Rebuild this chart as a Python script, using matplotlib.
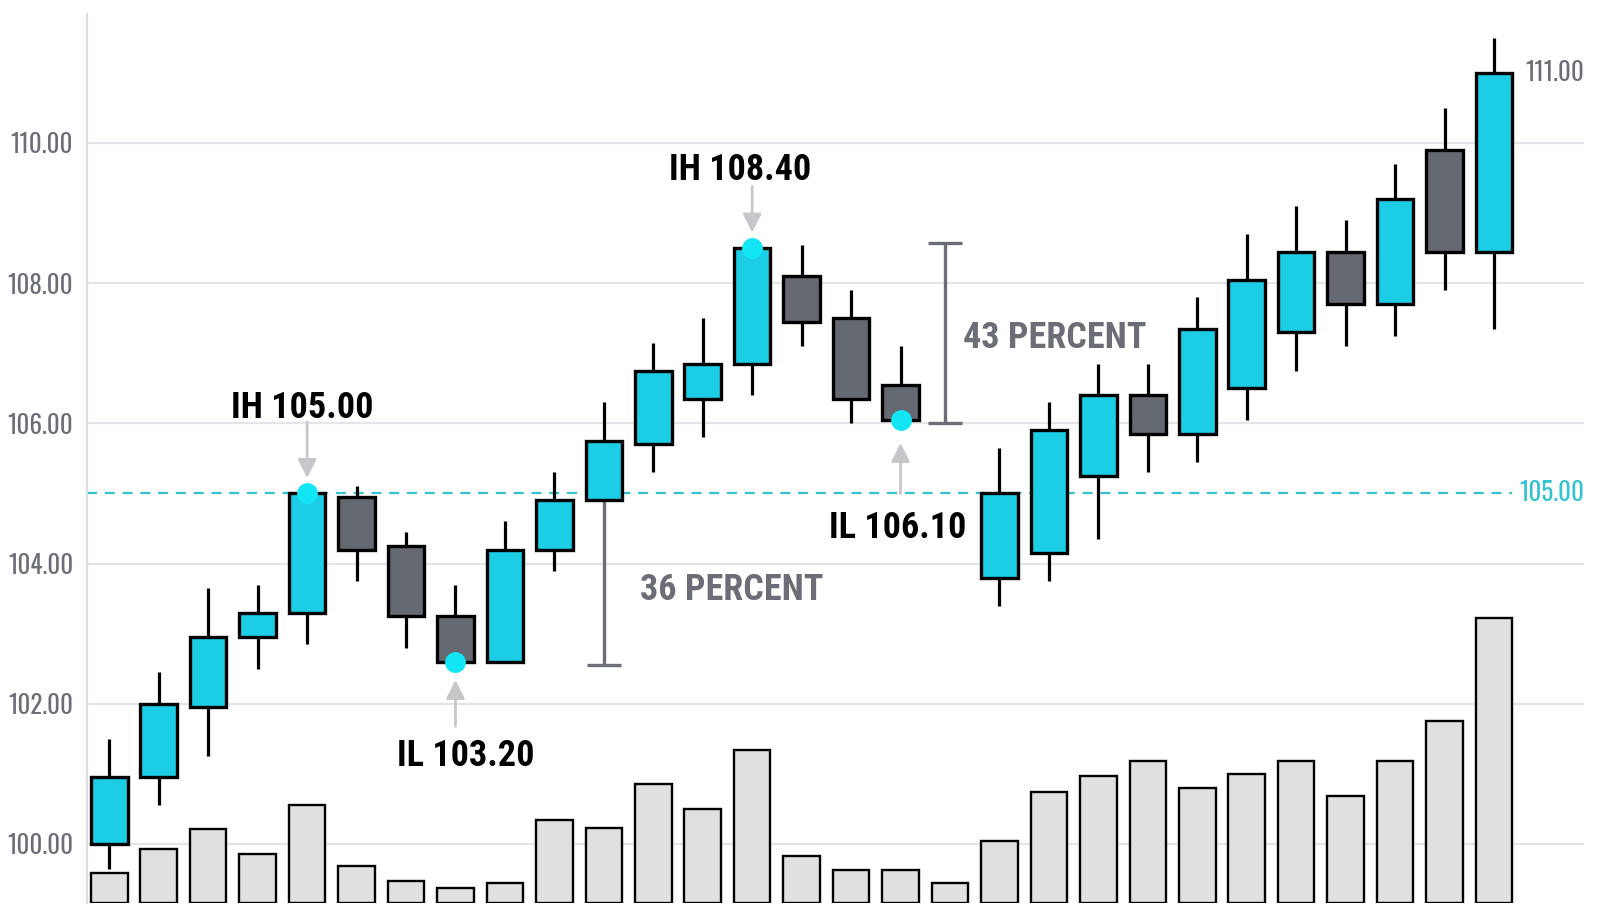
import matplotlib
matplotlib.use("Agg")
import matplotlib.pyplot as plt
from matplotlib import font_manager as fm

# --- data ---
candle_x = list(range(17)) + list(range(18, 29))
opens = [100.0, 100.95, 101.95, 102.95, 103.3, 104.95, 104.25, 103.25, 102.6, 104.2,
         104.9, 105.7, 106.35, 106.85, 108.1, 107.5, 106.55,
         103.8, 104.15, 105.25, 106.4, 105.85, 106.5, 107.3, 108.45, 107.7, 109.9, 108.45]
closes = [100.95, 102.0, 102.95, 103.3, 105.0, 104.2, 103.25, 102.6, 104.2, 104.9,
          105.75, 106.75, 106.85, 108.5, 107.45, 106.35, 106.05,
          105.0, 105.9, 106.4, 105.85, 107.35, 108.05, 108.45, 107.7, 109.2, 108.45, 111.0]
highs = [101.5, 102.45, 103.65, 103.7, 105.0, 105.1, 104.45, 103.7, 104.6, 105.3,
         106.3, 107.15, 107.5, 108.5, 108.55, 107.9, 107.1,
         105.65, 106.3, 106.85, 106.85, 107.8, 108.7, 109.1, 108.9, 109.7, 110.5, 111.5]
lows = [99.65, 100.55, 101.25, 102.5, 102.85, 103.75, 102.8, 102.6, 102.6, 103.9,
        104.9, 105.3, 105.8, 106.4, 107.1, 106.0, 106.05,
        103.4, 103.75, 104.35, 105.3, 105.45, 106.05, 106.75, 107.1, 107.25, 107.9, 107.35]

volume_x = list(range(29))
volumes = [3.0, 5.4, 7.4, 4.9, 9.8, 3.7, 2.2, 1.5, 2.0, 8.3, 7.5, 11.9, 9.4, 15.3, 4.75,
           3.35, 3.35, 2.0, 6.2, 11.1, 12.7, 14.2, 11.5, 12.9, 14.2, 10.7, 14.2, 18.2, 28.5]

y_ticks = [100, 102, 104, 106, 108, 110]
breakout_level = 105.0
last_close = 111.0

# pivot labels: (candle index, text, text x, text baseline y, arrow tail y, arrow tip y, dot y)
pivots = [
    (4, "IH 105.00", 3.9, 106.08, 106.02, 105.22, 105.0),
    (7, "IL 103.20", 7.2, 101.11, 101.68, 102.34, 102.6),
    (13, "IH 108.40", 12.75, 109.47, 109.38, 108.72, 108.5),
    (16, "IL 106.10", 15.95, 104.37, 105.0, 105.72, 106.05),
]
# retracement brackets: (x, top, bottom, caps, label, label x, label y)
brackets = [
    (10, 104.9, 102.55, "bottom", "36 PERCENT", 10.74, 103.48),
    (16.9, 108.57, 106.0, "both", "43 PERCENT", 17.27, 107.08),
]

# --- fonts: narrow family for ticks, narrow family with a real bold for labels ---
entries = fm.fontManager.ttflist
names = {f.name for f in entries}
narrow = ["Oswald", "Roboto Condensed", "Liberation Sans Narrow", "DejaVu Sans Condensed",
          "Noto Sans Condensed", "Open Sans Condensed"]
font = next((n for n in narrow if n in names), "Roboto")


def max_weight(name):
    w = [f.weight for f in entries if f.name == name]
    w = [x if isinstance(x, int) else fm.weight_dict.get(x, 400) for x in w]
    return max(w) if w else 0


bold_font = next((n for n in narrow if n in names and max_weight(n) >= 700), None)
if bold_font is None:
    bold_font = font
bold_weight = max(700, max_weight(bold_font)) if max_weight(bold_font) >= 700 else "bold"
plt.rcParams["font.family"] = [font, "DejaVu Sans"]
BOLD = dict(family=[bold_font, "DejaVu Sans"], fontweight=bold_weight)

UP = "#1ccde6"
DOWN = "#646871"
GREY_TXT = "#6b6e76"
TEAL = "#33c2d2"
DOT = "#12e6f4"
ARROW = "#c5c7cb"

fig = plt.figure(figsize=(16, 9.14), dpi=100)
ax = fig.add_axes([0.0544, 0.012, 0.9356, 0.9728])
ax.set_xlim(-0.45, 29.82)
ax.set_ylim(99.158, 111.84)

for s in ["top", "right", "bottom"]:
    ax.spines[s].set_visible(False)
ax.spines["left"].set_color("#dcdde0")
ax.spines["left"].set_linewidth(1.6)
ax.set_xticks([])
ax.set_yticks(y_ticks)
ax.set_yticklabels([f"{t:.2f}" for t in y_ticks])
ax.tick_params(axis="y", length=0, pad=10, labelsize=18, labelcolor=GREY_TXT)
ax.grid(axis="y", color="#e4e5e8", linewidth=1.6)
ax.set_axisbelow(True)

# breakout level
ax.hlines(breakout_level, -0.45, 28.37, colors=TEAL, linewidth=1.6,
          linestyles=(0, (4.5, 3.5)), zorder=1)

# candles
ax.vlines(candle_x, lows, highs, colors="black", linewidth=2.3, zorder=2)
bottoms = [min(o, c) for o, c in zip(opens, closes)]
heights = [abs(c - o) for o, c in zip(opens, closes)]
colors = [UP if c >= o else DOWN for o, c in zip(opens, closes)]
ax.bar(candle_x, heights, bottom=bottoms, width=0.74, color=colors,
       edgecolor="black", linewidth=2.4, zorder=3)

# brackets
for x, top, bot, caps, label, lx, ly in brackets:
    ax.vlines(x, bot, top, colors=GREY_TXT, linewidth=2.4, zorder=2)
    ax.hlines(bot, x - 0.34, x + 0.34, colors=GREY_TXT, linewidth=2.4, zorder=2)
    if caps == "both":
        ax.hlines(top, x - 0.34, x + 0.34, colors=GREY_TXT, linewidth=2.4, zorder=2)
    ax.text(lx, ly, label, ha="left", va="baseline", fontsize=26,
            color=GREY_TXT, **BOLD)

# pivot labels, arrows and dots
for i, label, tx, ty, tail, tip, dy in pivots:
    ax.text(tx, ty, label, ha="center", va="baseline", fontsize=26,
            color="black", zorder=5, **BOLD)
    ax.annotate("", xy=(i, tip), xytext=(i, tail),
                arrowprops=dict(arrowstyle="-|>", color=ARROW, lw=2,
                                mutation_scale=28, shrinkA=0, shrinkB=0), zorder=4)
    ax.plot(i, dy, "o", color=DOT, markersize=14, zorder=6)

# right side value labels
ax.text(29.82, last_close, f"{last_close:.2f}", ha="right", va="center",
        fontsize=18, color=GREY_TXT)
ax.text(29.82, breakout_level, f"{breakout_level:.2f}", ha="right", va="center",
        fontsize=18, color=TEAL)

# volume
axv = ax.twinx()
axv.set_ylim(0, 88.9)
axv.set_xlim(ax.get_xlim())
axv.axis("off")
axv.bar(volume_x, volumes, width=0.74, color="#dfe0e2", edgecolor="black", linewidth=1.7)

fig.savefig("out.png", dpi=100)
